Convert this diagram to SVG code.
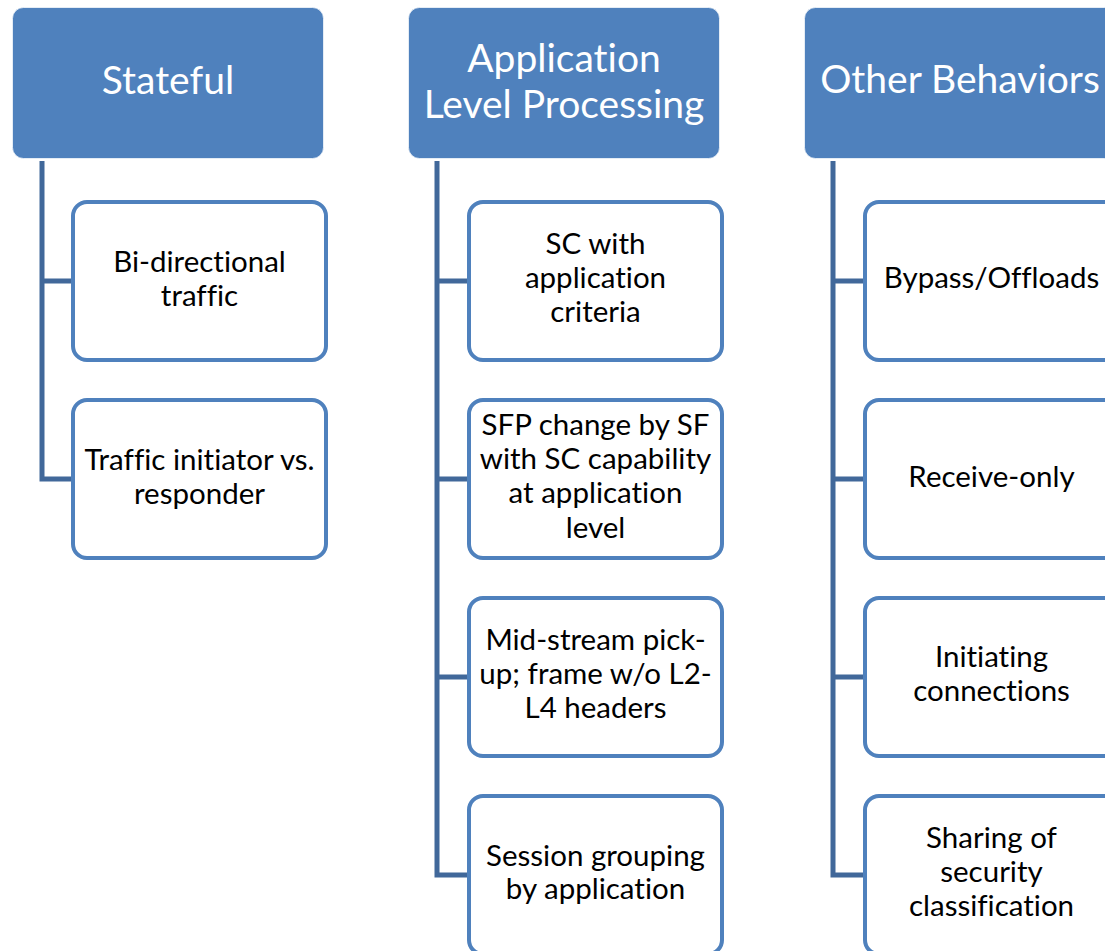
<svg xmlns="http://www.w3.org/2000/svg" width="1105" height="951" viewBox="0 0 1105 951">
<style>
.hdr{fill:#4F81BD;stroke:#FFFFFF;stroke-opacity:0.7;stroke-width:1}
.box{fill:#FFFFFF;stroke:#4F81BD;stroke-width:4}
.ht{font-family:Lato,"Liberation Sans",sans-serif;font-size:39px;fill:#FFFFFF;text-anchor:middle;font-variant-ligatures:none}
.bt{font-family:Lato,"Liberation Sans",sans-serif;font-size:29.5px;fill:#000000;text-anchor:middle;font-variant-ligatures:none}
.con{fill:none;stroke:#41689A;stroke-width:5;stroke-linejoin:miter}
</style>
<rect width="1105" height="951" fill="#FFFFFF"/>
<g id="connectors">
<path class="con" d="M42,161 V479 H73 M42,281 H73"/>
<path class="con" d="M437,161 V875 H469 M437,281 H469 M437,479 H469 M437,677 H469"/>
<path class="con" d="M833,161 V875 H865 M833,281 H865 M833,479 H865 M833,677 H865"/>
</g>
<g id="h1"><rect class="hdr" x="12.5" y="7.5" width="311" height="151" rx="11"/><text class="ht" x="168" y="94">Stateful</text></g>
<g id="h2"><rect class="hdr" x="408.5" y="7.5" width="311" height="151" rx="11"/><text class="ht" x="564" y="72">Application</text><text class="ht" x="564" y="118">Level Processing</text></g>
<g id="h3"><rect class="hdr" x="804.5" y="7.5" width="311" height="151" rx="11"/><text class="ht" x="960" y="93">Other Behaviors</text></g>
<g id="c1a"><rect class="box" x="73" y="202" width="253" height="158" rx="14"/><text class="bt" x="199.5" y="272">Bi-directional</text><text class="bt" x="199.5" y="306">traffic</text></g>
<g id="c1b"><rect class="box" x="73" y="400" width="253" height="158" rx="14"/><text class="bt" x="199.5" y="470">Traffic initiator vs.</text><text class="bt" x="199.5" y="504">responder</text></g>
<g id="c2a"><rect class="box" x="469" y="202" width="253" height="158" rx="14"/><text class="bt" x="595.5" y="254">SC with</text><text class="bt" x="595.5" y="288">application</text><text class="bt" x="595.5" y="322">criteria</text></g>
<g id="c2b"><rect class="box" x="469" y="400" width="253" height="158" rx="14"/><text class="bt" x="595.5" y="435">SFP change by SF</text><text class="bt" x="595.5" y="469">with SC capability</text><text class="bt" x="595.5" y="503">at application</text><text class="bt" x="595.5" y="538">level</text></g>
<g id="c2c"><rect class="box" x="469" y="598" width="253" height="158" rx="14"/><text class="bt" x="595.5" y="650">Mid-stream pick-</text><text class="bt" x="595.5" y="684">up; frame w/o L2-</text><text class="bt" x="595.5" y="718">L4 headers</text></g>
<g id="c2d"><rect class="box" x="469" y="796" width="253" height="158" rx="14"/><text class="bt" x="595.5" y="866">Session grouping</text><text class="bt" x="595.5" y="899">by application</text></g>
<g id="c3a"><rect class="box" x="865" y="202" width="253" height="158" rx="14"/><text class="bt" x="991.5" y="288">Bypass/Offloads</text></g>
<g id="c3b"><rect class="box" x="865" y="400" width="253" height="158" rx="14"/><text class="bt" x="991.5" y="487">Receive-only</text></g>
<g id="c3c"><rect class="box" x="865" y="598" width="253" height="158" rx="14"/><text class="bt" x="991.5" y="667">Initiating</text><text class="bt" x="991.5" y="701">connections</text></g>
<g id="c3d"><rect class="box" x="865" y="796" width="253" height="158" rx="14"/><text class="bt" x="991.5" y="848">Sharing of</text><text class="bt" x="991.5" y="882">security</text><text class="bt" x="991.5" y="916">classification</text></g>
</svg>
